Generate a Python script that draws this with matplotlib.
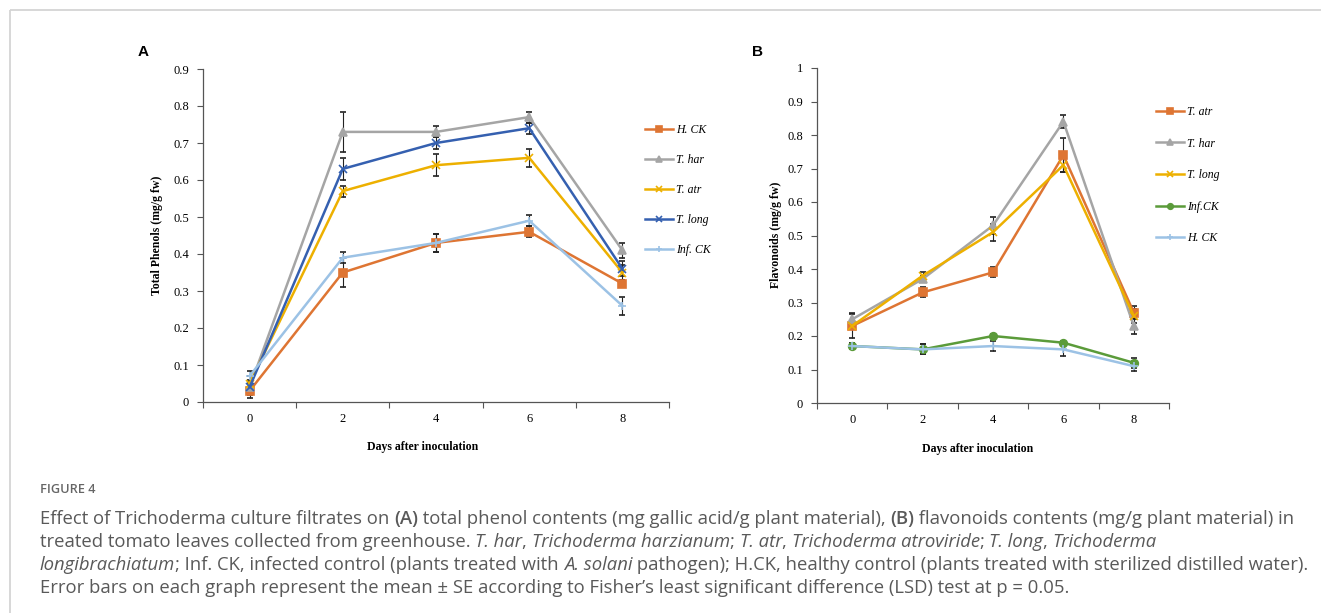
import matplotlib
matplotlib.use("Agg")
import matplotlib.pyplot as plt
from matplotlib.lines import Line2D
from matplotlib.ticker import FuncFormatter

# ---- data ----
days = [0, 2, 4, 6, 8]

# panel A: total phenols
phen_labels = ["H. CK", "T. har", "T. atr", "T. long", "Inf. CK"]
phen_hck = [0.03, 0.35, 0.43, 0.46, 0.32]
phen_thar = [0.04, 0.73, 0.73, 0.77, 0.41]
phen_tatr = [0.05, 0.57, 0.64, 0.66, 0.35]
phen_tlong = [0.04, 0.63, 0.70, 0.74, 0.36]
phen_infck = [0.07, 0.39, 0.43, 0.49, 0.26]
phen_hck_se = [0.010, 0.040, 0.025, 0.015, 0.010]
phen_thar_se = [0.030, 0.055, 0.015, 0.015, 0.020]
phen_tatr_se = [0.010, 0.015, 0.030, 0.025, 0.020]
phen_tlong_se = [0.010, 0.030, 0.015, 0.015, 0.020]
phen_infck_se = [0.015, 0.015, 0.025, 0.015, 0.025]

# panel B: flavonoids
flav_labels = ["T. atr", "T. har", "T. long", "Inf.CK", "H. CK"]
flav_tatr = [0.23, 0.33, 0.39, 0.74, 0.27]
flav_thar = [0.25, 0.37, 0.53, 0.84, 0.23]
flav_tlong = [0.23, 0.38, 0.51, 0.71, 0.26]
flav_infck = [0.17, 0.16, 0.20, 0.18, 0.12]
flav_hck = [0.17, 0.16, 0.17, 0.16, 0.11]
flav_tatr_se = [0.035, 0.015, 0.015, 0.050, 0.020]
flav_thar_se = [0.020, 0.010, 0.025, 0.020, 0.025]
flav_tlong_se = [0.010, 0.010, 0.025, 0.020, 0.020]
flav_infck_se = [0.010, 0.015, 0.005, 0.005, 0.015]
flav_hck_se = [0.010, 0.015, 0.015, 0.020, 0.015]

ORANGE = "#DE7533"
GREY = "#A5A5A5"
GOLD = "#EDB000"
BLUE = "#3560B0"
LBLUE = "#9CC2E5"
GREEN = "#5B9B3A"

W, H = 1322, 613
fig = plt.figure(figsize=(W / 100, H / 100), dpi=100)
fig.patch.set_facecolor("white")

SERIF = ["Liberation Serif", "DejaVu Serif"]


def fx(px):
    return px / W


def fy(py):
    return 1 - py / H


def style_axes(ax, ymax, ystep):
    for s in ["top", "right"]:
        ax.spines[s].set_visible(False)
    for s in ["left", "bottom"]:
        ax.spines[s].set_color("#555555")
        ax.spines[s].set_linewidth(0.9)
    ax.set_xlim(-1, 9)
    ax.set_ylim(0, ymax)
    # tick marks between categories, labels on the categories
    ax.set_xticks([-1, 1, 3, 5, 7, 9])
    ax.set_xticklabels([])
    ax.set_xticks(days, minor=True)
    ax.set_xticklabels([str(d) for d in days], minor=True, family=SERIF, fontsize=9)
    ax.tick_params(axis="x", which="major", direction="out", length=4, color="#555555")
    ax.tick_params(axis="x", which="minor", length=0, pad=8)
    yt = [round(i * ystep, 2) for i in range(int(round(ymax / ystep)) + 1)]
    ax.set_yticks(yt)
    ax.yaxis.set_major_formatter(FuncFormatter(lambda v, p: "%g" % v))
    ax.tick_params(axis="y", direction="out", length=4, color="#555555", pad=6)
    for lab in ax.get_yticklabels():
        lab.set_family(SERIF)
        lab.set_fontsize(9)


def series(ax, y, se, color, marker, label, ms=5.5):
    ax.errorbar(days, y, yerr=se, color=color, lw=1.8, marker=marker, ms=ms,
                mec=color, mfc=color, mew=1.2, ecolor="#222222", elinewidth=0.8,
                capsize=2.5, capthick=0.8, label=label, zorder=3)


# ---- panel A ----
axA = fig.add_axes([fx(203), fy(402), fx(669) - fx(203), fy(69) - fy(402)])
style_axes(axA, 0.9, 0.1)
series(axA, phen_hck, phen_hck_se, ORANGE, "s", phen_labels[0])
series(axA, phen_thar, phen_thar_se, GREY, "^", phen_labels[1])
series(axA, phen_tatr, phen_tatr_se, GOLD, "x", phen_labels[2])
series(axA, phen_tlong, phen_tlong_se, BLUE, "x", phen_labels[3])
series(axA, phen_infck, phen_infck_se, LBLUE, "+", phen_labels[4])

# ---- panel B ----
axB = fig.add_axes([fx(817), fy(403), fx(1169) - fx(817), fy(68) - fy(403)])
style_axes(axB, 1.0, 0.1)
series(axB, flav_tatr, flav_tatr_se, ORANGE, "s", flav_labels[0])
series(axB, flav_thar, flav_thar_se, GREY, "^", flav_labels[1])
series(axB, flav_tlong, flav_tlong_se, GOLD, "x", flav_labels[2])
series(axB, flav_infck, flav_infck_se, GREEN, "o", flav_labels[3])
series(axB, flav_hck, flav_hck_se, LBLUE, "+", flav_labels[4])


def make_legend(ax, x_px, y_px, spacing):
    hs, ls = ax.get_legend_handles_labels()
    hs = [h[0] for h in hs]
    leg = fig.legend(hs, ls, loc="upper left", bbox_to_anchor=(fx(x_px), fy(y_px)),
                     frameon=False, borderpad=0, borderaxespad=0, handlelength=2.4,
                     handletextpad=0.2, labelspacing=spacing,
                     prop={"family": SERIF, "style": "italic", "size": 8.5})
    for h in leg.legend_handles:
        h.set_markersize(4)
        h.set_linewidth(1.8)


make_legend(axA, 645, 124, 1.52)
make_legend(axB, 1156, 106, 1.66)

# axis titles
fig.text(fx(157), fy(235), "Total Phenols (mg/g fw)", rotation=90, ha="center", va="center",
         family=SERIF, fontsize=8.5, fontweight="bold")
fig.text(fx(423), fy(447), "Days after inoculation", ha="center", va="center",
         family=SERIF, fontsize=8.5, fontweight="bold")
fig.text(fx(776), fy(235), "Flavonoids (mg/g fw)", rotation=90, ha="center", va="center",
         family=SERIF, fontsize=8.5, fontweight="bold")
fig.text(fx(978), fy(449), "Days after inoculation", ha="center", va="center",
         family=SERIF, fontsize=8.5, fontweight="bold")

# panel letters
fig.text(fx(143), fy(52), "A", ha="center", va="center", family="Liberation Sans",
         fontsize=11, fontweight="bold")
fig.text(fx(757), fy(52), "B", ha="center", va="center", family="Liberation Sans",
         fontsize=11, fontweight="bold")

# card border (top and left)
fig.add_artist(Line2D([fx(9.5), fx(1321)], [fy(9.5), fy(9.5)], color="#d4d4d4", lw=1.3,
                      solid_capstyle="butt"))
fig.add_artist(Line2D([fx(9.5), fx(9.5)], [fy(9.5), 0], color="#d4d4d4", lw=1.3,
                      solid_capstyle="butt"))

# ---- caption ----
CAP = "#595959"
CAP_FONT = "Open Sans"
CAP_SIZE = 13.3

fig.text(fx(40), fy(493), "FIGURE 4", family=CAP_FONT, fontsize=9.2, color="#666666",
         va="baseline", fontweight="semibold")

cap_lines = [
    [("Effect of Trichoderma culture filtrates on ", ""), ("(A)", "b"),
     (" total phenol contents (mg gallic acid/g plant material), ", ""), ("(B)", "b"),
     (" flavonoids contents (mg/g plant material) in", "")],
    [("treated tomato leaves collected from greenhouse. ", ""), ("T. har", "i"), (", ", ""),
     ("Trichoderma harzianum", "i"), ("; ", ""), ("T. atr", "i"), (", ", ""),
     ("Trichoderma atroviride", "i"), ("; ", ""), ("T. long", "i"), (", ", ""),
     ("Trichoderma", "i")],
    [("longibrachiatum", "i"), ("; Inf. CK, infected control (plants treated with ", ""),
     ("A. solani", "i"),
     (" pathogen); H.CK, healthy control (plants treated with sterilized distilled water).", "")],
    [("Error bars on each graph represent the mean \u00b1 SE according to Fisher\u2019s least "
      "significant difference (LSD) test at p = 0.05.", "")],
]
cap_y = [524, 547, 570, 593]

renderer = fig.canvas.get_renderer()
for runs, ypx in zip(cap_lines, cap_y):
    x = 40
    for txt, st in runs:
        t = fig.text(fx(x), fy(ypx), txt, family=CAP_FONT, fontsize=CAP_SIZE, color=CAP,
                     va="baseline", ha="left",
                     fontweight="semibold" if st == "b" else "normal",
                     fontstyle="italic" if st == "i" else "normal")
        bb = t.get_window_extent(renderer)
        x += bb.width

fig.savefig("out.png", dpi=100)
